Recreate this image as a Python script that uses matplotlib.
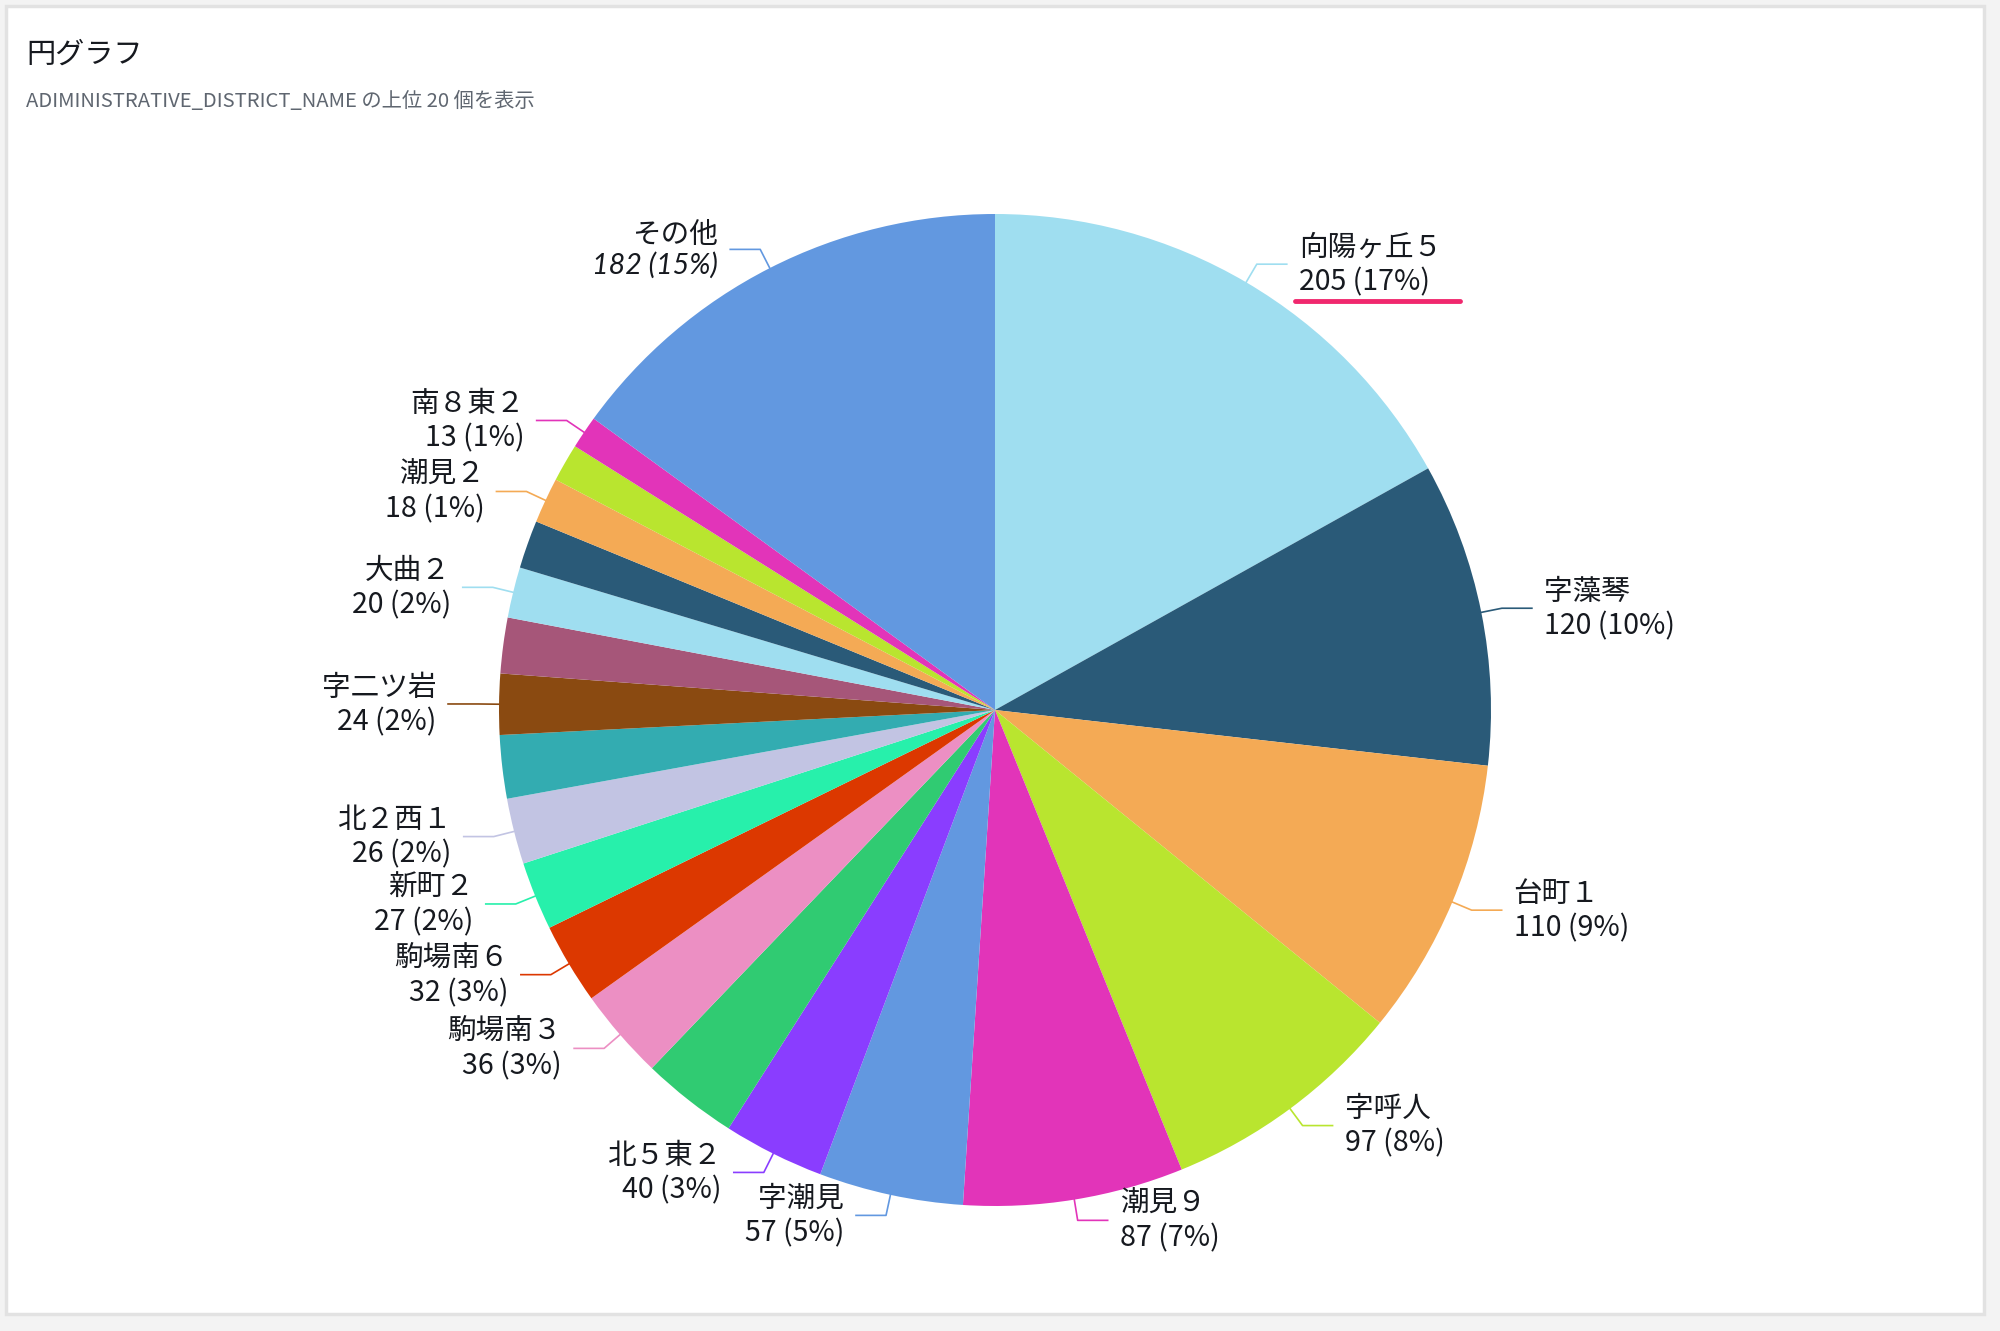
import numpy as np
import matplotlib.pyplot as plt
from matplotlib.patches import Rectangle

plt.rcParams['font.family'] = ['Noto Sans CJK JP', 'DejaVu Sans']

# top 20 districts + others, clockwise from 12 o'clock
names = ['向陽ヶ丘５', '字藻琴', '台町１', '字呼人', '潮見９', '字潮見', '北５東２', '',
         '駒場南３', '駒場南６', '新町２', '北２西１', '', '字二ツ岩', '', '大曲２', '',
         '潮見２', '', '南８東２', 'その他']
values = [205, 120, 110, 97, 87, 57, 40, 38, 36, 32, 27, 26, 25, 24, 22, 20, 19,
          18, 15, 13, 182]
colors = ['#9fdef0', '#2a5a78', '#f4aa55', '#b9e52f', '#e234b9', '#6298e0', '#8a3dff',
          '#30cb72', '#ec8fc3', '#dc3800', '#27f0ab', '#c2c4e3', '#33acb1', '#8a4a11',
          '#a65679', '#9fdef0', '#2a5a78', '#f4aa55', '#b9e52f', '#e234b9', '#6298e0']

title = '円グラフ'
subtitle = 'ADIMINISTRATIVE_DISTRICT_NAME の上位 20 個を表示'

W, H = 2000, 1331
fig = plt.figure(figsize=(W / 100, H / 100), dpi=100, facecolor='#f3f3f3')
ax = fig.add_axes([0, 0, 1, 1])

# card
ax.add_patch(Rectangle((6, 17), 1978, 1308, facecolor='white',
                       edgecolor='#e2e2e2', lw=2.5, zorder=0))

cx, cy, R = 995, H - 710, 496
wedges, _ = ax.pie(values, colors=colors, startangle=90, counterclock=False,
                   radius=R, center=(cx, cy), wedgeprops=dict(linewidth=0))

total = sum(values)
first_label = None
for w, name, v, c in zip(wedges, names, values, colors):
    if not name:
        continue
    ang = np.deg2rad((w.theta1 + w.theta2) / 2)
    dx, dy = np.cos(ang), np.sin(ang)
    x0, y0 = cx + R * dx, cy + R * dy
    x1, y1 = cx + (R + 21) * dx, cy + (R + 21) * dy
    side = 1 if dx >= 0 else -1
    x2 = x1 + side * 30
    ax.plot([x0, x1, x2], [y0, y1, y1], color=c, lw=1.2, zorder=3)
    pct = round(100 * v / total)
    kw = {}
    if name == 'その他':
        kw = dict(style='italic', family=['Lato', 'Noto Sans CJK JP'])
    t = ax.text(x2 + side * 12, y1 - 1, f'{name}\n{v} ({pct}%)',
                ha='left' if side > 0 else 'right', va='center',
                multialignment='left' if side > 0 else 'right',
                fontsize=20.6, linespacing=1.2, color='#16191f', **kw)
    if first_label is None:
        first_label = t

ax.set_xlim(0, W)
ax.set_ylim(0, H)
ax.set_aspect('equal')
ax.axis('off')

fig.text(26 / W, 1 - 55 / H, title, fontsize=21, color='#16191f', va='center')
fig.text(26 / W, 1 - 101 / H, subtitle, fontsize=14.6, color='#5f6670', va='center')

# highlight underline under the first label
fig.canvas.draw()
bb = first_label.get_window_extent()
ax.plot([bb.x0 - 4, bb.x1 + 18], [bb.y0 - 4] * 2, color='#f0286e', lw=3.5,
        solid_capstyle='round', zorder=4)

fig.savefig('out.png', dpi=100, facecolor=fig.get_facecolor())
